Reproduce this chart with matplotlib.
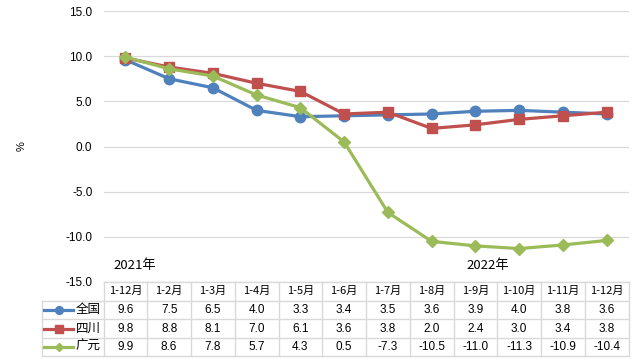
import matplotlib
matplotlib.use("Agg")
import matplotlib.pyplot as plt
from matplotlib.lines import Line2D

plt.rcParams['font.family'] = ['Noto Sans CJK SC', 'DejaVu Sans']

categories = ["1-12月", "1-2月", "1-3月", "1-4月", "1-5月", "1-6月", "1-7月",
              "1-8月", "1-9月", "1-10月", "1-11月", "1-12月"]
series_names = ["全国", "四川", "广元"]
quanguo = [9.6, 7.5, 6.5, 4.0, 3.3, 3.4, 3.5, 3.6, 3.9, 4.0, 3.8, 3.6]
sichuan = [9.8, 8.8, 8.1, 7.0, 6.1, 3.6, 3.8, 2.0, 2.4, 3.0, 3.4, 3.8]
guangyuan = [9.9, 8.6, 7.8, 5.7, 4.3, 0.5, -7.3, -10.5, -11.0, -11.3, -10.9, -10.4]
yticks = [-15, -10, -5, 0, 5, 10, 15]
year_labels = ["2021年", "2022年"]

colors = ["#4F81BD", "#C0504D", "#9BBB59"]
markers = ["o", "s", "D"]
msizes = [7.5, 7, 6]
values = [quanguo, sichuan, guangyuan]

W, H = 639, 362
fig = plt.figure(figsize=(W / 100, H / 100), dpi=100)

x0, x1 = 103.5, 628.5
ytop, ybot = 11, 282
ax = fig.add_axes([x0 / W, 1 - ybot / H, (x1 - x0) / W, (ybot - ytop) / H])
n = len(categories)
xs = list(range(n))
for vals, c, m, ms in zip(values, colors, markers, msizes):
    ax.plot(xs, vals, color=c, lw=2.3, marker=m, markersize=ms, zorder=3)
ax.set_xlim(-0.5, n - 0.5)
ax.set_ylim(-15, 15)
ax.set_yticks(yticks)
ax.set_yticklabels([f"{v:.1f}" for v in yticks], fontsize=8.5, family=['Liberation Sans', 'DejaVu Sans'])
ax.tick_params(axis='y', length=0, pad=8)
ax.set_xticks([])
ax.grid(axis='y', color='#D9D9D9', lw=0.9)
ax.set_axisbelow(True)
for s in ax.spines.values():
    s.set_visible(False)

fig.text(22 / W, 1 - 146 / H, "%", fontsize=8, rotation=90, ha='center', va='center',
         family=['Liberation Sans', 'DejaVu Sans'])

# year labels
fig.text(135 / W, 1 - 266 / H, year_labels[0], fontsize=9.5, ha='center', va='center')
fig.text(488 / W, 1 - 266 / H, year_labels[1], fontsize=9.5, ha='center', va='center')

# data table
tleft = 41.7
colw = (x1 - x0) / n
row_edges = [282, 300.7, 319.3, 337.7, 355.7]
tax = fig.add_axes([0, 0, 1, 1])
tax.set_xlim(0, W)
tax.set_ylim(H, 0)
tax.axis('off')
gc = '#D9D9D9'
tax.plot([x0, x1], [row_edges[0]] * 2, color=gc, lw=1)
for ye in row_edges[1:]:
    tax.plot([tleft, x1], [ye] * 2, color=gc, lw=1)
tax.plot([tleft, tleft], [row_edges[1], row_edges[-1]], color=gc, lw=1)
for i in range(n + 1):
    xe = x0 + i * colw
    tax.plot([xe, xe], [row_edges[0], row_edges[-1]], color=gc, lw=1)

numfont = ['Liberation Sans', 'DejaVu Sans']
for i, cat in enumerate(categories):
    cx = x0 + (i + 0.5) * colw
    tax.text(cx, (row_edges[0] + row_edges[1]) / 2, cat, fontsize=8, ha='center', va='center')
    for r, vals in enumerate(values):
        cy = (row_edges[r + 1] + row_edges[r + 2]) / 2
        tax.text(cx, cy, f"{vals[i]:.1f}", fontsize=8.5, ha='center', va='center', family=numfont)

for r, (name, c, m, ms) in enumerate(zip(series_names, colors, markers, msizes)):
    cy = (row_edges[r + 1] + row_edges[r + 2]) / 2
    tax.add_line(Line2D([44, 73], [cy, cy], color=c, lw=2.3))
    tax.plot([58.5], [cy], marker=m, color=c, markersize=ms * 0.75)
    tax.text(75.5, cy, name, fontsize=9, ha='left', va='center')

fig.savefig("out.png", dpi=100)
